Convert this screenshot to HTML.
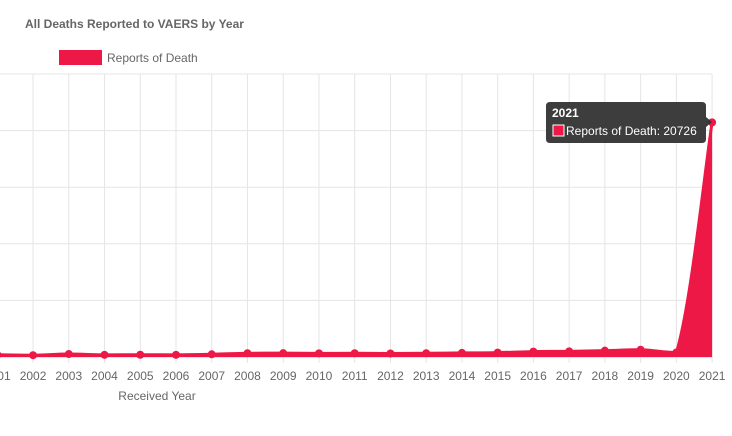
<!DOCTYPE html>
<html><head><meta charset="utf-8"><style>
body{margin:0;background:#fff;width:732px;height:436px;overflow:hidden;font-family:"Liberation Sans",sans-serif}
svg{display:block}
</style></head><body>
<svg id="chart" width="732" height="436">
<text x="25" y="28" font-size="12" font-weight="bold" fill="#666">All Deaths Reported to VAERS by Year</text>
<g>
<rect x="59" y="50" width="43" height="15" fill="#ee1847"/>
<text x="107" y="62" font-size="12" fill="#666">Reports of Death</text>
</g>
<g id="grid"></g>
<g id="series"></g>
<g id="xticks"></g>
<text x="157" y="400" font-size="12" fill="#666" text-anchor="middle">Received Year</text>
<g>
<path d="M550,102 H702 Q706,102 706,106 V117 L712,122 L706,127 V139 Q706,143 702,143 H550 Q546,143 546,139 V106 Q546,102 550,102 Z" fill="#333" fill-opacity="0.95"/>
<text x="552" y="117" font-size="12" font-weight="bold" fill="#fff">2021</text>
<rect x="553" y="125" width="11" height="11" fill="#ee1847" stroke="#fff" stroke-width="1"/>
<text x="566" y="135" font-size="12" fill="#fff">Reports of Death: 20726</text>
</g>
</svg>
<script>
const years=['2001','2002','2003','2004','2005','2006','2007','2008','2009','2010','2011','2012','2013','2014','2015','2016','2017','2018','2019','2020','2021'];
const deaths=[200,160,260,190,200,190,240,330,340,320,330,310,330,360,390,480,500,560,640,400,20726];
const yTicks=[0,5000,10000,15000,20000,25000];
const NS='http://www.w3.org/2000/svg';
const x0=-2.7,dx=35.74,yb=357,yt=74,ymax=25000;
const xs=i=>x0+i*dx, ys=v=>yb-(v/ymax)*(yb-yt);
function mk(t,a,p){const e=document.createElementNS(NS,t);for(const k in a)e.setAttribute(k,a[k]);p.appendChild(e);return e;}
const grid=document.getElementById('grid'),ser=document.getElementById('series'),xt=document.getElementById('xticks');
yTicks.forEach(v=>{const l=mk('line',{x1:0,x2:712,y1:ys(v),y2:ys(v),stroke:v===0?'#ccc':'#e5e5e5','stroke-width':1},grid);

});
years.forEach((y,i)=>{const l=mk('line',{x1:xs(i),x2:xs(i),y1:yt,y2:yb+6,stroke:'#e5e5e5'},grid);


const t=mk('text',{x:xs(i),y:380,'font-size':12,fill:'#666','text-anchor':'middle'},xt);t.textContent=y;

});
const P=deaths.map((v,i)=>[xs(i),ys(v)]);
let d='M'+P[0][0]+','+P[0][1];
const T=0.4;
const cl=(v,a,b)=>Math.max(Math.min(a,b),Math.min(Math.max(a,b),v));
for(let i=0;i<P.length-1;i++){const p0=P[Math.max(i-1,0)],p1=P[i],p2=P[i+1],p3=P[Math.min(i+2,P.length-1)];
let c1=[p1[0]+(p2[0]-p0[0])*T/2,p1[1]+(p2[1]-p0[1])*T/2],c2=[p2[0]-(p3[0]-p1[0])*T/2,p2[1]-(p3[1]-p1[1])*T/2];
c1[1]=cl(c1[1],p1[1],p2[1]);c2[1]=cl(c2[1],p1[1],p2[1]);
d+=` C${c1[0]},${c1[1]} ${c2[0]},${c2[1]} ${p2[0]},${p2[1]}`;}
const area=mk('path',{d:d+` L${P[P.length-1][0]},${yb} L${P[0][0]},${yb} Z`,fill:'#ee1847'},ser);


const line=mk('path',{d:d,fill:'none',stroke:'#ee1847','stroke-width':3},ser);


P.forEach((p,i)=>{const c=mk('circle',{cx:p[0],cy:p[1],r:4,fill:'#ee1847'},ser);

});
</script>
</body></html>
